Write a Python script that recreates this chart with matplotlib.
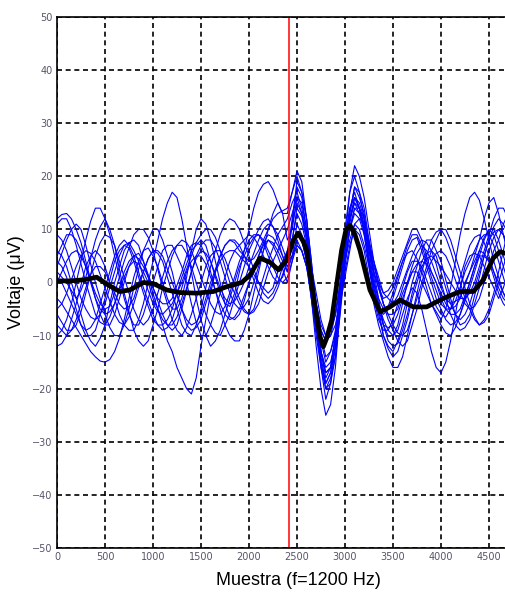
import matplotlib
matplotlib.use("Agg")
import matplotlib.pyplot as plt
import numpy as np
# EEG-like trials (blue) with their average (black) around a stimulus mark

# sample positions for every trace (one value every 50 samples, 0..4700)
muestras = np.arange(0, 4701, 50)

# single trials, uV (10 values = 500 samples per row)
trial_01 = [12, 12.8, 13, 12, 10, 7.5, 4, 0.5, -3, -6,
            -8, -8, -6, -3, 0, 3, 5, 5.5, 4, 1.5,
            -1, -3.5, -6, -8, -9, -8, -5, -1.5, 2, 5,
            7, 8, 8, 6.5, 4, 1, -2, -4, -5, -4.5,
            -3, 0, 3, 6, 8, 7.5, 6, 4, 2, 8,
            14, 12.5, 8, 1, -6, -13, -18, -16, -10, -1,
            8, 14, 16, 14, 9, 3, -3, -7, -9, -9,
            -7, -4, -1, 2, 4, 4, 3, 0.5, -2, -4.5,
            -6, -6.5, -5, -2, 1, 4, 7, 8.5, 9, 7.5,
            5, 2, -1, -3, -4]
trial_02 = [-10, -9, -7, -4, 0, 4, 8, 11.5, 14, 14,
            12, 9, 5, 1, -3, -6, -8, -8, -6, -3,
            0, 3, 6, 7, 7, 5, 3, 0, -4, -7.5,
            -10, -10, -8, -5, -2, 1, 4, 6, 7, 8,
            9, 8.5, 7, 5, 3, 1, 0, 1, 4, 11,
            18, 16, 10, 2, -8, -16, -22, -19, -12, -1,
            10, 17, 20, 17, 12, 6, 0, -5, -10, -12,
            -13, -11, -8, -4, 0, 3, 6, 8, 8, 6,
            4, 0.5, -3, -6, -8, -7.5, -6, -2.5, 1, 5,
            8, 10.5, 12, 11, 9]
trial_03 = [3, 5.5, 8, 10, 11, 10, 7, 3.5, 0, -3,
            -6, -8.5, -10, -10, -8, -5, -1, 2.5, 6, 8,
            10, 10, 8, 5, 2, -2, -5, -8, -9, -8.5,
            -7, -4, -1, 2, 4, 5.5, 6, 6, 5, 4,
            3, 1.5, 0, -1, -2, -1, 2, 4, 6, 8,
            9, 8, 4, 0, -4, -8, -10, -9, -6, -1,
            4, 8, 11, 10, 7, 3, -2, -5, -6, -5,
            -3, 0, 3, 6, 8, 8.5, 6, 3, 0, -3,
            -5, -7, -8, -7.5, -6, -3.5, -1, 2, 5, 8,
            10, 10, 8, 5, 2]
trial_04 = [-3, -4, -5.5, -7, -8.5, -10, -11.5, -13, -14, -14.8,
            -15, -14.5, -13, -10.5, -7, -3, 1, 4, 6, 6.5,
            5, 3, 0, -3, -5, -5, -3, 1, 6, 10,
            12, 11, 8, 4, 0, -4, -6.5, -7, -6, -3.5,
            0, 2.5, 5, 7, 8, 7, 5, 2.5, 0, 4,
            9, 8, 4, -3, -10, -16, -20, -19, -14, -5,
            6, 13, 18, 17, 14, 8, 2, -3, -8, -11,
            -12, -11.5, -9, -6, -2, 1, 4, 5.5, 6, 5,
            2, -1, -4, -6, -7, -6, -4, -1, 2, 5,
            8, 9.5, 10, 9, 6]
trial_05 = [6, 5, 3, 0, -3, -6, -9, -11, -12, -10.5,
            -8, -4, 0, 3, 6, 7.5, 8, 7, 4, 1,
            -2, -5, -8, -11, -13, -16, -18, -20, -21, -18,
            -12, -7, -2, 2, 5, 7, 8, 7.5, 6, 5,
            4, 4.5, 6, 8, 10, 12, 13, 13.5, 14, 17,
            20, 17, 12, 4, -6, -13, -17, -16, -10, -3,
            4, 10, 14, 13, 10, 6, 2, -1, -4, -6,
            -8, -9.5, -10, -9, -6, -3, 0, 3, 6, 8,
            10, 10, 8, 5, 2, -1, -4, -6.5, -8, -7.5,
            -6, -3, 0, 3, 6]
trial_06 = [0, 2, 4, 5.5, 6, 5, 3, 0.5, -2, -4,
            -5, -4.5, -2, 1, 4, 6.5, 9, 10, 10, 8.5,
            6, 2.5, -1, -4, -7, -9, -10, -8.5, -6, -3,
            0, 3, 5, 6, 6, 4.5, 2, -0.5, -3, -5,
            -6, -5.5, -4, -1, 2, 4, 6, 8, 10, 13,
            16, 13, 8, 3, -2, -7, -10, -9, -6, 0,
            6, 12, 15, 13, 10, 4, -2, -6, -10, -12.5,
            -14, -13, -10, -7, -3, 0, 3, 4.5, 5, 4,
            3, 1.5, 0, -1.5, -3, -3, -2, 0, 3, 6,
            9, 12, 14, 14, 12]
trial_07 = [-6, -7.5, -9, -9, -8, -5.5, -2, 1.5, 5, 7.5,
            9, 8.5, 7, 4, 1, -2, -5, -7, -8, -7,
            -5, -2, 1, 4, 6, 7, 7, 5.5, 3, 0,
            -3, -6, -8, -9.5, -10, -8, -6, -3, 0, 3,
            6, 8, 10, 11.5, 12, 10.5, 8, 5, 2, 5,
            11, 9, 5, -3, -12, -20, -25, -23, -16, -5,
            8, 17, 22, 20, 16, 10, 4, -1, -4, -6,
            -6, -5, -2, 0, 2, 2, 0, -2, -4, -6,
            -8, -9.5, -10, -8.5, -6, -3, 0, 3, 6, 8.5,
            10, 9, 6, 3, 0]
trial_08 = [9, 8, 6, 3, 0, -3, -5, -6.5, -7, -6,
            -4, -1, 2, 5, 7, 7.5, 6, 4, 1, -1.5,
            -4, -5.5, -6, -5, -4, -2, 0, 2.5, 5, 7.5,
            9, 10, 10, 8.5, 6, 3, 0, -2, -4, -5.5,
            -6, -5, -2, 1, 4, 6.5, 9, 10.5, 12, 15,
            17, 14, 9, 3, -4, -10, -14, -13, -10, -4,
            2, 7, 10, 9, 6, 1, -4, -8, -11, -14,
            -16, -16, -14, -10, -6, -2, 2, 5, 8, 9.5,
            10, 8.5, 6, 3, 0, -3, -5, -7, -8, -7,
            -5, -2, 2, 6, 10]
trial_09 = [1, 0, -2, -4, -6, -8, -9, -8.5, -7, -4,
            -1, 2, 5, 7, 8, 7, 5, 2, -1, -3.5,
            -6, -8, -9, -8.5, -7, -4, -1, 2, 4, 5,
            5, 3.5, 1, -1.5, -4, -6, -7, -6.5, -5, -2.5,
            0, 2.5, 5, 7.5, 9, 8.5, 7, 5, 3, 5,
            7, 6, 3, -1, -5, -9, -11, -10, -8, -4,
            1, 6, 11, 12, 11, 7, 4, 1, -2, -3,
            -4, -2.5, 0, 2.5, 5, 7, 8, 7.5, 6, 3.5,
            0, -3, -6, -8, -9, -8.5, -7, -4, -1, 2.5,
            6, 8.5, 10, 9, 7]
trial_10 = [-12, -11.5, -10, -7, -4, -0.5, 3, 5, 6, 5,
            3, 0, -3, -6, -8, -9, -9, -7, -4, 0,
            4, 8, 12, 15, 17, 16, 12, 7, 2, -3,
            -7, -10, -12, -11, -9, -6, -3, 0, 3, 5,
            7, 8.5, 9, 8, 6, 4, 2, 2.5, 5, 12,
            19, 17, 12, 4, -5, -11, -15, -13, -9, -1,
            8, 14, 17, 14, 10, 4, -1, -5, -8, -8.5,
            -8, -6, -3, -0.5, 2, 3.5, 4, 3.5, 2, 0,
            -2, -4, -5, -4.5, -3, -0.5, 2, 4, 6, 5.5,
            4, 1, -2, -4, -5]
trial_11 = [5, 7, 9, 9, 8, 6, 3, 0, -3, -5,
            -6, -5.5, -4, -1.5, 1, 3, 4, 3.5, 2, 0,
            -3, -5, -7, -8, -8, -6.5, -4, -1, 2, 4.5,
            6, 5.5, 4, 1.5, -1, -3, -4, -3.5, -2, 0,
            3, 5.5, 8, 10, 11, 10.5, 9, 6.5, 4, 5,
            8, 6, 3, -3, -9, -15, -19, -17, -12, -4,
            4, 10, 13, 12, 9, 4, 0, -3, -5, -4.5,
            -2, 1, 4, 7, 9, 9, 7, 4, 1, -1.5,
            -4, -5, -5, -3.5, -1, 2, 4, 6, 8, 9,
            9, 7, 4, 1, -2]
trial_12 = [-8, -9, -10, -9, -7, -4, -1, 1.5, 3, 3,
            2, 0, -2, -4, -5, -4.5, -3, 0, 2, 4.5,
            6, 5.5, 4, 1, -2, -5, -8, -9.5, -10, -8,
            -5, -1, 3, 6, 9, 11, 12, 11.5, 10, 7.5,
            5, 2.5, 0, -2, -3, -2, 0, 3, 6, 11,
            15, 13, 9, 1, -7, -15, -20, -18, -14, -6,
            3, 11, 16, 15, 12, 7, 2, -1, -3, -2.5,
            -1, 1.5, 4, 5.5, 6, 4.5, 2, -1, -4, -5.5,
            -7, -5, -1, 4, 9, 13, 16, 17, 15.5, 12,
            8, 4, 1, -2, -4]
trial_13 = [2, 1, 0, -1.5, -3, -1.5, 1, 4.5, 8, 10.5,
            12, 10, 7, 2.5, -2, -5.5, -9, -11, -12, -11,
            -8, -5, -1, 2, 5, 7, 8, 7.5, 6, 3.5,
            1, -1.5, -4, -5.5, -6, -4.5, -2, 1, 4, 6,
            8, 9, 9, 7.5, 5, 3, 1, 0, 1, 4,
            7, 6, 3, -2, -8, -13, -16, -15, -11, -3,
            6, 12, 16, 14, 11, 5, -1, -4, -7, -9,
            -10, -9, -6, -3, -1, -2, -5, -9, -13, -16,
            -17, -15, -11, -6, -1, 3, 5, 5.5, 5, 3,
            1, -1, -3, -1, 2]
trial_14 = [11, 12, 12, 10, 7, 3.5, 0, -3, -6, -7.5,
            -8, -6.5, -4, -1, 2, 4, 5, 4.5, 3, 1,
            -1, -3, -4, -4, -3, -0.5, 2, 5, 7, 7.5,
            7, 5, 2, -1.5, -5, -8, -10, -11, -11, -9,
            -6, -2, 2, 6, 10, 13, 15, 13, 8, 10,
            16, 15, 10, 3, -4, -9, -11, -10, -6, 0,
            7, 12, 15, 14, 11, 7, 3, 0, -2, -1.5,
            0, 2.5, 5, 7.5, 10, 10, 8, 5, 2, 0,
            -3, -5, -6, -6, -5, -2.5, 0, 3, 5, 5,
            4, 2, 0, -2, -3]
trial_15 = [-5, -4, -2, 0.5, 3, 5, 6, 5.5, 4, 1.5,
            -1, -3.5, -6, -7.5, -8, -6.5, -4, -1, 2, 4.5,
            6, 6, 5, 2.5, 0, -2.5, -5, -7, -8, -7.5,
            -6, -3, 0, 2.5, 5, 7, 8, 8, 7, 5,
            3, 0.5, -2, -3.5, -4, -3, -1, 1.5, 4, 8,
            13, 11, 7, 1, -6, -13, -17, -16, -12, -4,
            4, 10, 14, 14, 12, 8, 4, 0, -4, -7,
            -9, -11, -12, -11, -8, -5, -1, 2, 4, 5.5,
            6, 5, 3, 0.5, -2, -4, -5, -4.5, -3, 0,
            3, 6, 8, 11, 13]
trial_16 = [4, 3, 1, -2, -5, -8, -10, -10, -9, -6,
            -3, 0.5, 4, 6, 7, 6.5, 4, 1, -2, -4.5,
            -7, -8, -8, -7, -5, -2, 1, 3.5, 6, 7,
            8, 7, 4, 1, -2, -4, -4.5, -2, 2, 6,
            10, 14, 17, 18.5, 19, 17.5, 15, 13, 13, 17,
            21, 19, 12, 3, -6, -14, -19, -17, -12, -4,
            5, 13, 18, 16, 13, 7, 1, -4, -8, -10,
            -10, -8, -4, 0, 3, 5.5, 7, 6, 4, 1.5,
            -1, -3, -4, -3.5, -3, 0, 2, 5, 8, 12,
            15, 16, 13, 9, 5]

trials = [trial_01, trial_02, trial_03, trial_04, trial_05, trial_06, trial_07, trial_08,
          trial_09, trial_10, trial_11, trial_12, trial_13, trial_14, trial_15, trial_16]

# averaged response (black)
prom_x = [0, 135, 274, 413, 535, 656, 760, 899, 1003, 1142, 1281, 1455, 1628, 1767,
          1924, 2010, 2115, 2219, 2306, 2392, 2462, 2514, 2566, 2601, 2688, 2740,
          2774, 2809, 2861, 2965, 3010, 3052, 3104, 3156, 3260, 3365, 3469, 3573,
          3712, 3851, 4024, 4198, 4337, 4441, 4545, 4615, 4667]
prom_y = [0.3, 0.3, 0.5, 1.0, -0.5, -1.7, -1.4, 0.0, -0.2, -1.4, -1.9, -2.0, -1.7, -0.8,
          0.0, 1.4, 4.6, 3.8, 2.4, 4.2, 8.0, 9.3, 7.7, 6.1, -4.6, -10.2,
          -12.1, -10.5, -7.1, 6.1, 9.9, 10.8, 9.0, 6.1, -1.4, -5.5, -4.6, -3.3,
          -4.6, -4.6, -3.0, -1.7, -1.7, 0.5, 4.6, 5.8, 5.5]

estimulo = 2420  # red marker

fig = plt.figure(figsize=(5.05, 5.92), dpi=100)
ax = fig.add_axes([57 / 505, 44 / 592, 448 / 505, 531 / 592])

for t in trials:
    ax.plot(muestras, t, color="#0000ff", lw=0.8)
ax.plot(prom_x, prom_y, color="black", lw=3.4, solid_capstyle="round",
        solid_joinstyle="round")
ax.axvline(estimulo, color="red", lw=1.1)

ax.set_xlim(0, 4667)
ax.set_ylim(-50, 50)
ax.set_xticks(np.arange(0, 4501, 500))
ax.set_yticks(np.arange(-50, 51, 10))
ax.set_axisbelow(True)
ax.grid(True, color="black", lw=1.2, linestyle=(0, (3.0, 2.2)))
ax.tick_params(direction="in", length=0, labelsize=7, labelcolor="#55556a", pad=3)

for s in ["left", "top", "bottom"]:
    ax.spines[s].set_linewidth(1.2)
ax.spines["right"].set_visible(False)

ax.set_xlabel("Muestra (f=1200 Hz)", fontsize=13, family="Liberation Sans")
ax.set_ylabel("Voltaje (\u03bcV)", fontsize=13, family="Liberation Sans")
ax.xaxis.set_label_coords(0.538, -0.045)
ax.yaxis.set_label_coords(-0.072, 0.5)

fig.savefig("out.png", dpi=100)
